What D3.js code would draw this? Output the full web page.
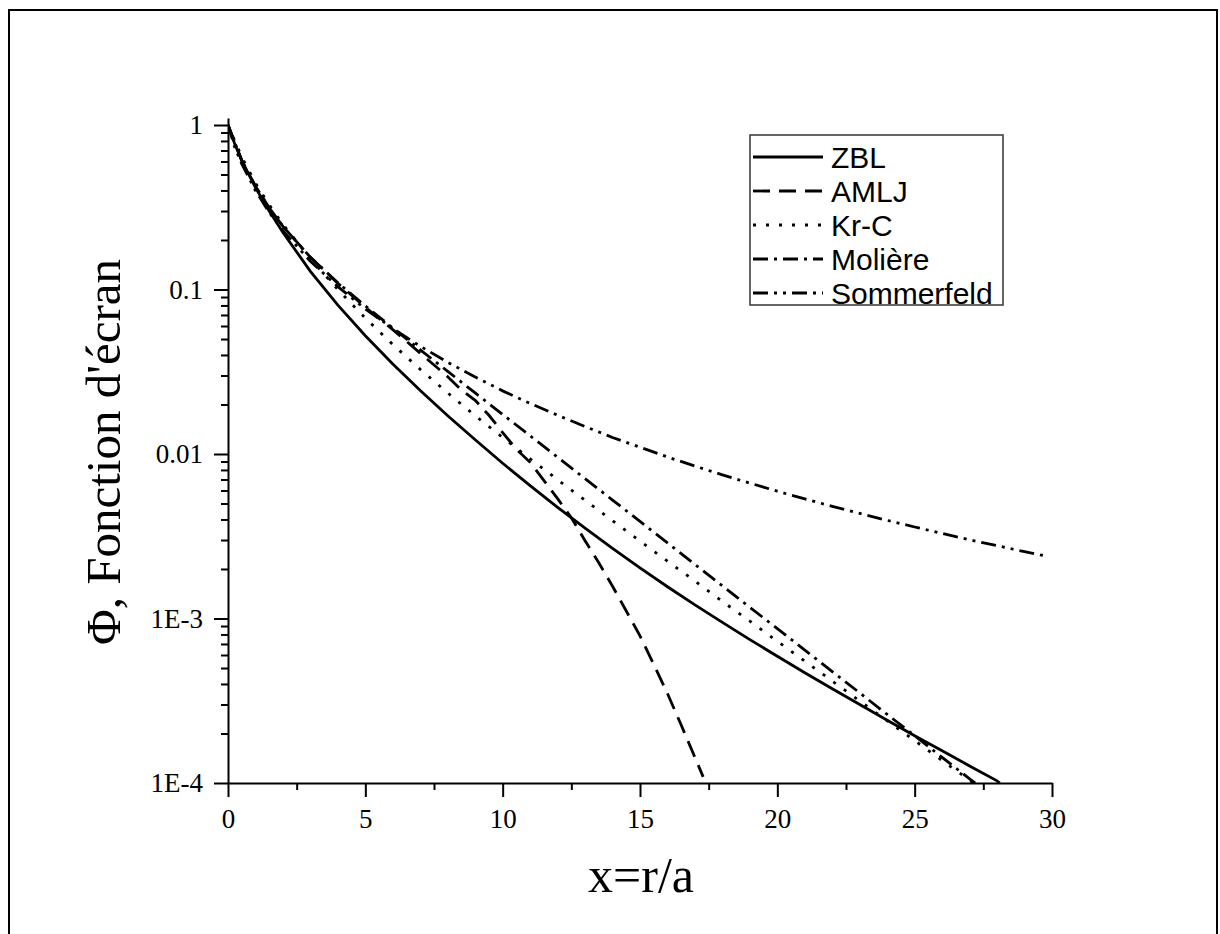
<!DOCTYPE html>
<html>
<head>
<meta charset="utf-8">
<script src="https://cdn.jsdelivr.net/npm/d3@7"></script>
<style>
  body { margin: 0; background: #fff; }
  svg { display: block; }
  .tick text { font-family: "Liberation Serif", "Times New Roman", serif; font-size: 27px; fill: #000; }
  .axis-title { font-family: "Liberation Serif", "Times New Roman", serif; fill: #000; }
  .legend text { font-family: "Liberation Sans", Arial, sans-serif; font-size: 30px; fill: #000; }
</style>
</head>
<body>
<svg id="chart" width="1220" height="934"></svg>
<script>
// values
const zblX = [0, 0.25, 0.5, 1, 1.5, 2, 3, 4, 5, 6, 7, 8, 9, 10, 11, 12, 13, 14, 15, 16, 17, 18, 19, 20, 21, 22, 23, 24, 25, 26, 27, 28, 28.1];
const zblY = [1, 0.765, 0.61, 0.416, 0.3, 0.222, 0.129, 0.0803, 0.0523, 0.0352, 0.0243, 0.0171, 0.0122, 0.00878, 0.00642, 0.00474, 0.00354, 0.00267, 0.00203, 0.00156, 0.00121, 0.000947, 0.000744, 0.000589, 0.000468, 0.000374, 0.0003, 0.000241, 0.000194, 0.000157, 0.000127, 0.000103, 0.0001];

const amljX = [0, 0.5, 1, 1.5, 2, 3, 4, 5, 6, 7, 8, 8.5, 9, 9.5, 10, 10.5, 11, 12, 12.5, 13, 13.5, 14, 14.5, 15, 15.5, 16, 16.5, 17, 17.3];
const amljY = [1, 0.61, 0.425, 0.314, 0.242, 0.157, 0.109, 0.078, 0.057, 0.041, 0.0295, 0.0245, 0.0212, 0.0172, 0.0135, 0.0107, 0.0089, 0.00535, 0.0041, 0.00297, 0.00218, 0.00157, 0.00111, 0.000785, 0.000526, 0.00035, 0.000225, 0.000143, 0.000109];

const krcX = [0, 0.5, 1, 1.5, 2, 3, 4, 5, 6, 7, 8, 9, 10, 11, 12, 13, 14, 15, 16, 17, 18, 19, 20, 21, 22, 23, 24, 25, 26, 27, 27.2];
const krcY = [1, 0.639, 0.444, 0.327, 0.249, 0.154, 0.0999, 0.067, 0.0463, 0.0327, 0.0235, 0.0171, 0.0126, 0.00935, 0.00698, 0.00523, 0.00393, 0.00296, 0.00223, 0.00169, 0.00127, 0.000963, 0.000727, 0.00055, 0.000417, 0.000315, 0.000239, 0.000181, 0.000137, 0.000104, 0.0000979];

const moliereX = [0, 0.5, 1, 1.5, 2, 3, 4, 5, 6, 7, 8, 9, 10, 11, 12, 13, 14, 15, 16, 17, 18, 19, 20, 21, 22, 23, 24, 25, 26, 27, 27.3];
const moliereY = [1, 0.608, 0.425, 0.314, 0.242, 0.157, 0.11, 0.0795, 0.0583, 0.043, 0.0318, 0.0235, 0.0174, 0.0129, 0.00956, 0.00708, 0.00525, 0.00389, 0.00288, 0.00213, 0.00158, 0.00117, 0.000868, 0.000643, 0.000476, 0.000353, 0.000261, 0.000194, 0.000143, 0.000106, 0.0000971];

const sommerfeldX = [0, 0.25, 0.5, 1, 1.5, 2, 3, 4, 5, 6, 7, 8, 9, 10, 11, 12, 13, 14, 15, 16, 17, 18, 19, 20, 21, 22, 23, 24, 25, 26, 27, 28, 29, 29.7];
const sommerfeldY = [1, 0.73, 0.58, 0.4, 0.294, 0.228, 0.1485, 0.104, 0.0762, 0.0579, 0.0452, 0.0361, 0.0294, 0.0242, 0.0203, 0.0172, 0.0147, 0.0126, 0.011, 0.00959, 0.00844, 0.00747, 0.00665, 0.00594, 0.00533, 0.00481, 0.00435, 0.00395, 0.0036, 0.00329, 0.00301, 0.00277, 0.00255, 0.00241];

const seriesNames = ["ZBL", "AMLJ", "Kr-C", "Molière", "Sommerfeld"];
const seriesDash = ["none", "17,9", "3,10", "15,6,3,6", "15,6,3,6,3,6"];

const xTicks = [0, 5, 10, 15, 20, 25, 30];
const xMinorTicks = [2.5, 7.5, 12.5, 17.5, 22.5, 27.5];
const yTicks = [1e-4, 1e-3, 0.01, 0.1, 1];
const yTickLabels = ["1E-4", "1E-3", "0.01", "0.1", "1"];

const series = [
  { name: seriesNames[0], dash: seriesDash[0], xs: zblX, ys: zblY },
  { name: seriesNames[1], dash: seriesDash[1], xs: amljX, ys: amljY },
  { name: seriesNames[2], dash: seriesDash[2], xs: krcX, ys: krcY },
  { name: seriesNames[3], dash: seriesDash[3], xs: moliereX, ys: moliereY },
  { name: seriesNames[4], dash: seriesDash[4], xs: sommerfeldX, ys: sommerfeldY },
].map((s) => ({ ...s, values: s.xs.map((x, i) => ({ x, y: s.ys[i] })) }));

const svg = d3.select("#chart");

// outer frame
svg
  .append("rect")
  .attr("x", 9)
  .attr("y", 10)
  .attr("width", 1208)
  .attr("height", 960)
  .attr("fill", "none")
  .attr("stroke", "#000")
  .attr("stroke-width", 2);

const plotLeft = 228,
  plotRight = 1052,
  plotTop = 118,
  plotBottom = 783;

const xScale = d3.scaleLinear().domain([0, 30]).range([plotLeft, plotRight]);
const yScale = d3.scaleLog().domain([1e-4, 1.103]).range([plotBottom, plotTop]);

// minor y ticks 2..9 per decade
const yMinorTicks = [];
[1e-4, 1e-3, 0.01, 0.1].forEach((d) => {
  for (let k = 2; k <= 9; k++) yMinorTicks.push(d * k);
});

svg
  .append("defs")
  .append("clipPath")
  .attr("id", "plot-clip")
  .append("rect")
  .attr("x", plotLeft)
  .attr("y", plotTop - 5)
  .attr("width", plotRight - plotLeft)
  .attr("height", plotBottom - plotTop + 5);

const lineGenerator = d3
  .line()
  .x((d) => xScale(d.x))
  .y((d) => yScale(d.y));

svg
  .append("g")
  .attr("clip-path", "url(#plot-clip)")
  .selectAll(".line-path")
  .data(series)
  .enter()
  .append("path")
  .attr("class", "line-path")
  .attr("d", (d) => lineGenerator(d.values))
  .attr("fill", "none")
  .attr("stroke", "#000")
  .attr("stroke-width", 2.8)
  .attr("stroke-dasharray", (d) => d.dash);

// axes
const styleAxis = (g) => {
  g.selectAll("path, line").attr("stroke", "#000").attr("stroke-width", 2);
};

svg
  .append("g")
  .attr("transform", `translate(0,${plotBottom})`)
  .call(d3.axisBottom(xScale).tickValues(xMinorTicks).tickSize(7).tickFormat(""))
  .call(styleAxis)
  .select(".domain")
  .remove();

svg
  .append("g")
  .attr("class", "x-axis")
  .attr("transform", `translate(0,${plotBottom})`)
  .call(d3.axisBottom(xScale).tickValues(xTicks).tickSize(14).tickSizeOuter(0).tickPadding(12))
  .call(styleAxis);

svg
  .append("g")
  .attr("transform", `translate(${plotLeft},0)`)
  .call(d3.axisLeft(yScale).tickValues(yMinorTicks).tickSize(7).tickFormat(""))
  .call(styleAxis)
  .select(".domain")
  .remove();

svg
  .append("g")
  .attr("class", "y-axis")
  .attr("transform", `translate(${plotLeft},0)`)
  .call(
    d3
      .axisLeft(yScale)
      .tickValues(yTicks)
      .tickSize(14)
      .tickSizeOuter(0)
      .tickPadding(11)
      .tickFormat((d, i) => yTickLabels[i])
  )
  .call(styleAxis);

svg.selectAll(".x-axis, .y-axis").attr("font-family", null).attr("font-size", null);

// axis titles
svg
  .append("text")
  .attr("class", "axis-title")
  .attr("x", 641)
  .attr("y", 892)
  .attr("font-size", 50)
  .attr("text-anchor", "middle")
  .text("x=r/a");

svg
  .append("text")
  .attr("class", "axis-title")
  .attr("transform", `translate(120,452) rotate(-90)`)
  .attr("font-size", 49)
  .attr("text-anchor", "middle")
  .text("Φ, Fonction d'écran");

// legend
const legend = svg.append("g").attr("class", "legend");

legend
  .append("rect")
  .attr("x", 750)
  .attr("y", 135)
  .attr("width", 253)
  .attr("height", 170)
  .attr("fill", "#fff")
  .attr("stroke", "#333")
  .attr("stroke-width", 1.5);

const rows = legend
  .selectAll(".row")
  .data(series)
  .enter()
  .append("g")
  .attr("class", "row")
  .attr("transform", (d, i) => `translate(0,${157 + i * 34})`);

rows
  .append("line")
  .attr("x1", 753)
  .attr("x2", 823)
  .attr("stroke", "#000")
  .attr("stroke-width", 2.8)
  .attr("stroke-dasharray", (d) => d.dash);

rows
  .append("text")
  .attr("x", 831)
  .attr("dy", "0.36em")
  .text((d) => d.name);
</script>
</body>
</html>
